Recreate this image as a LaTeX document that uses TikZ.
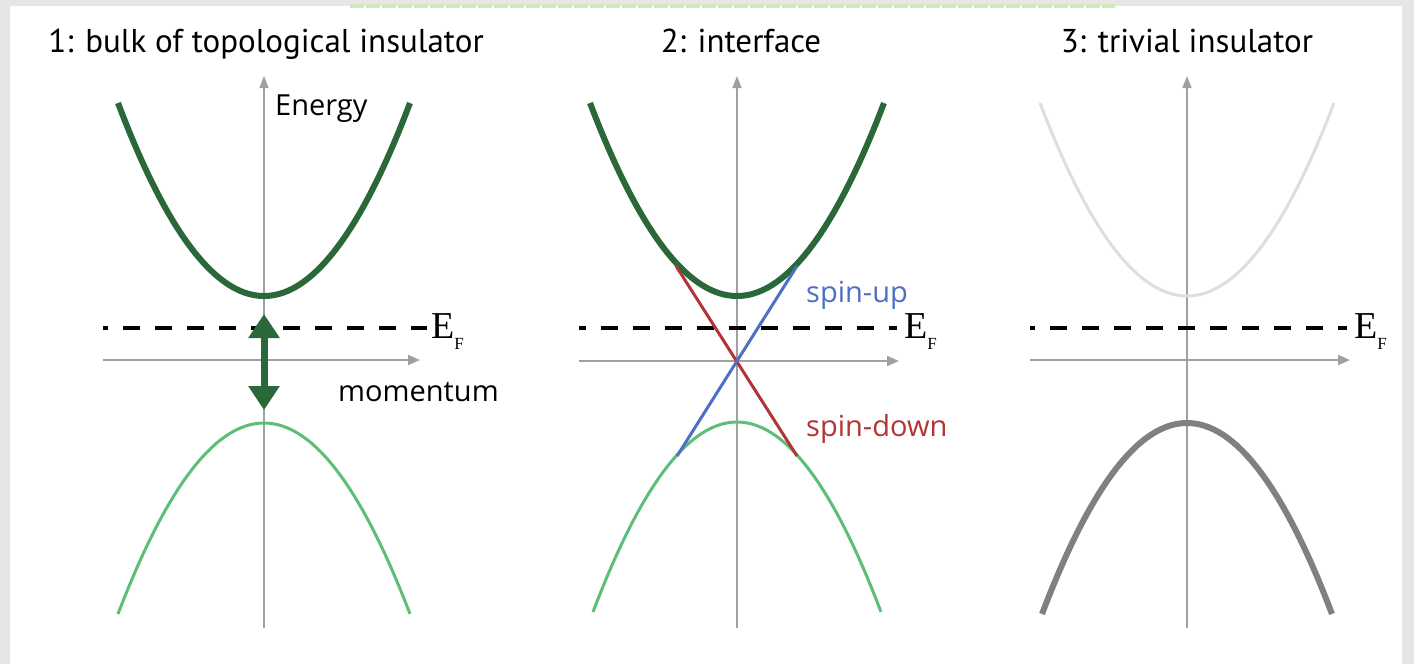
\documentclass[tikz,border=0pt]{standalone}
\usepackage{fontspec}
\setmainfont{Liberation Serif}
\newfontfamily\titlefont{PT Sans}
\newfontfamily\labfont{Open Sans}
\usetikzlibrary{arrows.meta}
\definecolor{dkgreen}{RGB}{42,104,58}
\definecolor{ltgreen}{RGB}{92,190,120}
\definecolor{spinred}{RGB}{178,52,52}
\definecolor{spinblue}{RGB}{78,112,196}
\definecolor{axisgray}{RGB}{160,160,160}
\definecolor{framegray}{RGB}{230,230,230}
\definecolor{paleband}{RGB}{208,232,190}
\tikzset{
  axisline/.style={draw=axisgray, line width=2pt, -{Triangle[length=12pt,width=10pt]}},
  vaxis/.style={draw=axisgray, line width=1.6pt, -{Triangle[length=12pt,width=9pt]}},
  fermi/.style={draw=black, line width=3.5pt, dash pattern=on 17pt off 15pt},
  thickband/.style={line width=6pt},
  thinband/.style={line width=3pt},
  title/.style={font=\titlefont\fontsize{33}{36}\selectfont, anchor=base, inner sep=0pt},
  lab/.style={font=\labfont\fontsize{29}{32}\selectfont, anchor=base west, inner sep=0pt},
  eflab/.style={font=\fontsize{38}{40}\selectfont, anchor=base west, inner sep=0pt}
}
\newcommand{\efermi}{E\raisebox{-0.3em}{\fontsize{17}{17}\selectfont F}}
\begin{document}
\begin{tikzpicture}[x=1pt,y=-1pt]
\useasboundingbox (0,0) rectangle (1414,664);
\fill[framegray] (0,0) rectangle (1414,664);
\fill[white] (10,6) rectangle (1402,664);
\draw[paleband, line width=4pt, dash pattern=on 14pt off 2pt] (350,6) -- (1115,6);

% titles
\node[title] (t1) at (266,52) {1: bulk of topological insulator};
\node[title] (t2) at (741,52) {2: interface};
\node[title] (t3) at (1187,52) {3: trivial insulator};

% ---------- panel 1 ----------
\coordinate (v1b) at (264,628); \coordinate (v1t) at (264,76);
\coordinate (h1l) at (103,360); \coordinate (h1r) at (420,360);
\draw[vaxis] (v1b) -- (v1t);
\draw[axisline] (h1l) -- (h1r);
\draw[dkgreen, thickband] plot[domain=-1:1, samples=80] ({264+146*\x},{296-193*\x*\x});
\draw[ltgreen, thinband] plot[domain=-1:1, samples=80] ({264+146*\x},{423+191*\x*\x});
\coordinate (e1l) at (103,328); \coordinate (e1r) at (427,328);
\draw[fermi, dash phase=12pt] (e1l) -- (e1r);
\node[eflab] (ef1) at (431,338) {\efermi};
\coordinate (da) at (264,314); \coordinate (db) at (264,410);
\draw[dkgreen, line width=7pt, {Triangle[length=24pt,width=30pt]}-{Triangle[length=24pt,width=30pt]}] (da) -- (db);
\node[lab] (en) at (275,115) {Energy};
\node[lab] (mo) at (338,401) {momentum};

% ---------- panel 2 ----------
\coordinate (v2b) at (737,628); \coordinate (v2t) at (737,76);
\coordinate (h2l) at (579,361); \coordinate (h2r) at (899,361);
\draw[vaxis] (v2b) -- (v2t);
\draw[axisline] (h2l) -- (h2r);
\draw[dkgreen, thickband] plot[domain=-1:1, samples=80] ({737+147*\x},{296-193*\x*\x});
\draw[ltgreen, thinband] plot[domain=-1:1, samples=80] ({737+144*\x},{422+190*\x*\x});
\coordinate (e2l) at (579,328); \coordinate (e2r) at (897,328);
\draw[fermi, dash phase=10pt] (e2l) -- (e2r);
\node[eflab] (ef2) at (904,338) {\efermi};
\coordinate (r1) at (676,266); \coordinate (r2) at (797,456);
\coordinate (b1) at (677,456); \coordinate (b2) at (797,266);
\draw[spinred, line width=3pt] (r1) -- (r2);
\draw[spinblue, line width=3pt] (b1) -- (b2);
\node[lab, text=spinblue] (su) at (806,302) {spin-up};
\node[lab, text=spinred] (sd) at (806,436) {spin-down};

% ---------- panel 3 ----------
\coordinate (v3b) at (1187,628); \coordinate (v3t) at (1187,76);
\coordinate (h3l) at (1030,360); \coordinate (h3r) at (1350,360);
\draw[vaxis] (v3b) -- (v3t);
\draw[axisline] (h3l) -- (h3r);
\draw[black!13, thinband] plot[domain=-1:1, samples=80] ({1187+147*\x},{296-193*\x*\x});
\draw[black!50, thickband] plot[domain=-1:1, samples=80] ({1187+145*\x},{423+191*\x*\x});
\coordinate (e3l) at (1030,328); \coordinate (e3r) at (1347,328);
\draw[fermi, dash phase=12pt] (e3l) -- (e3r);
\node[eflab] (ef3) at (1354,338) {\efermi};
\end{tikzpicture}
\end{document}
